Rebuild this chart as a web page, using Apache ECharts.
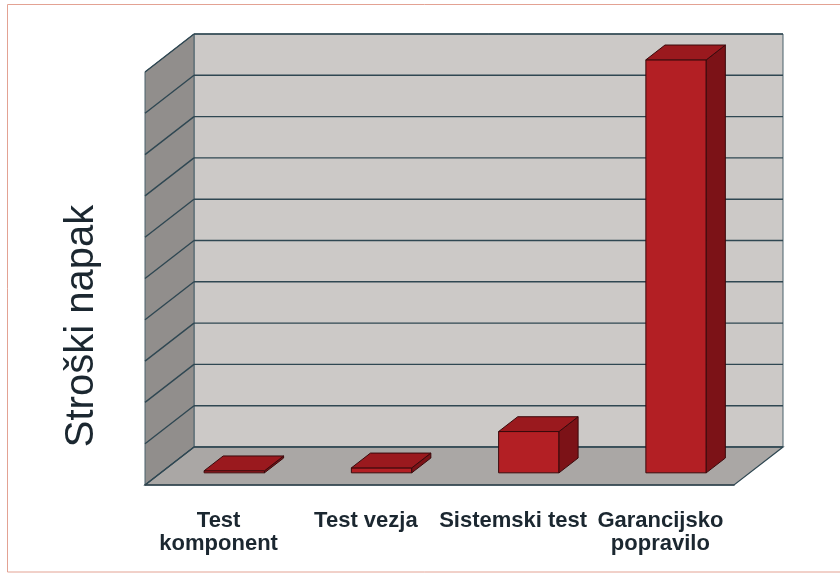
<!DOCTYPE html>
<html><head><meta charset="utf-8">
<script src="https://cdn.jsdelivr.net/npm/echarts@6/dist/echarts.min.js"></script>
<style>html,body{margin:0;padding:0;background:#fff}#c{width:840px;height:573px}</style>
</head><body><div id="c"></div>
<script>
// ---- data ----
const categories = ['Test\nkomponent', 'Test vezja', 'Sistemski test', 'Garancijsko\npopravilo'];
const costs = [0.5, 1.2, 10, 100];
const valueTicks = [0, 10, 20, 30, 40, 50, 60, 70, 80, 90, 100];
const axisTitle = 'Stroški napak';

// ---- 3D look (style constants) ----
const DEPTH = [49, -38];
const F1 = 0.32, F2 = 0.71, BAR_W = 0.41;
const GRID_COL = '#2f4752';

function walls(params, api) {
  const cs = params.coordSys;
  const x0 = cs.x, x1 = cs.x + cs.width, yt = cs.y, yb = cs.y + cs.height;
  const dx = DEPTH[0], dy = DEPTH[1];
  const ch = [];
  ch.push({type: 'polygon', shape: {points: [[x0 + dx, yt + dy], [x1 + dx, yt + dy], [x1 + dx, yb + dy], [x0 + dx, yb + dy]]},
    style: {fill: '#ccc9c7', stroke: '#4a606a', lineWidth: 1}});
  ch.push({type: 'polygon', shape: {points: [[x0, yt], [x0 + dx, yt + dy], [x0 + dx, yb + dy], [x0, yb]]},
    style: {fill: '#918e8c', stroke: '#4a606a', lineWidth: 1}});
  ch.push({type: 'polygon', shape: {points: [[x0, yb], [x0 + dx, yb + dy], [x1 + dx, yb + dy], [x1, yb]]},
    style: {fill: '#aaa7a5', stroke: GRID_COL, lineWidth: 1.2}});
  valueTicks.forEach(function (v) {
    const y = api.coord([0, v])[1];
    ch.push({type: 'line', shape: {x1: x0 + dx, y1: y + dy, x2: x1 + dx, y2: y + dy}, style: {stroke: GRID_COL, lineWidth: 1.4}});
    ch.push({type: 'line', shape: {x1: x0, y1: y, x2: x0 + dx, y2: y + dy}, style: {stroke: GRID_COL, lineWidth: 1.4}});
  });
  return {type: 'group', children: ch};
}

function bars(params, api) {
  const i = api.value(0), v = api.value(1);
  const base = api.coord([i, 0]), top = api.coord([i, v]);
  const bw = api.size([1, 0])[0] * BAR_W;
  const ax = DEPTH[0] * F1, ay = DEPTH[1] * F1, bx = DEPTH[0] * F2, by = DEPTH[1] * F2;
  const l = base[0] - bw / 2, r = base[0] + bw / 2, yb = base[1], yt = top[1];
  const st = {stroke: '#3a0a0c', lineWidth: 1, lineJoin: 'round'};
  return {type: 'group', children: [
    {type: 'polygon', shape: {points: [[l + ax, yt + ay], [r + ax, yt + ay], [r + ax, yb + ay], [l + ax, yb + ay]]}, style: Object.assign({fill: '#b31f24'}, st)},
    {type: 'polygon', shape: {points: [[r + ax, yt + ay], [r + bx, yt + by], [r + bx, yb + by], [r + ax, yb + ay]]}, style: Object.assign({fill: '#7c1217'}, st)},
    {type: 'polygon', shape: {points: [[l + ax, yt + ay], [r + ax, yt + ay], [r + bx, yt + by], [l + bx, yt + by]]}, style: Object.assign({fill: '#9a191e'}, st)}
  ]};
}

const chart = echarts.init(document.getElementById('c'), null, {renderer: 'canvas'});
chart.setOption({
  animation: false,
  grid: {left: 145, top: 72, width: 589, height: 413},
  xAxis: {
    type: 'category', data: categories, z: 10,
    axisLine: {lineStyle: {color: '#33454f', width: 1.5}},
    axisTick: {length: 6, lineStyle: {color: '#33454f', width: 1.5}},
    axisLabel: {interval: 0, margin: 24, fontFamily: '"Liberation Sans", Arial, sans-serif', fontWeight: 'bold', fontSize: 22, lineHeight: 23, color: '#1b2730'},
    splitLine: {show: false}
  },
  yAxis: {type: 'value', min: 0, max: 100, interval: 10, show: false},
  series: [
    {type: 'custom', data: [[0, 0]], renderItem: walls, z: 1, silent: true},
    {type: 'custom', data: costs.map(function (v, i) { return [i, v]; }), renderItem: bars, z: 2}
  ],
  graphic: [
    {type: 'rect', shape: {x: 7.5, y: 4.5, width: 840, height: 567.5}, style: {fill: 'none', stroke: '#e3a293', lineWidth: 1}, silent: true},
    {type: 'text', x: 82, y: 326, rotation: Math.PI / 2,
      style: {text: axisTitle, font: '40px "Liberation Sans", Arial, sans-serif', fill: '#1b2730', align: 'center', verticalAlign: 'middle'}}
  ]
});
</script>
</body></html>
